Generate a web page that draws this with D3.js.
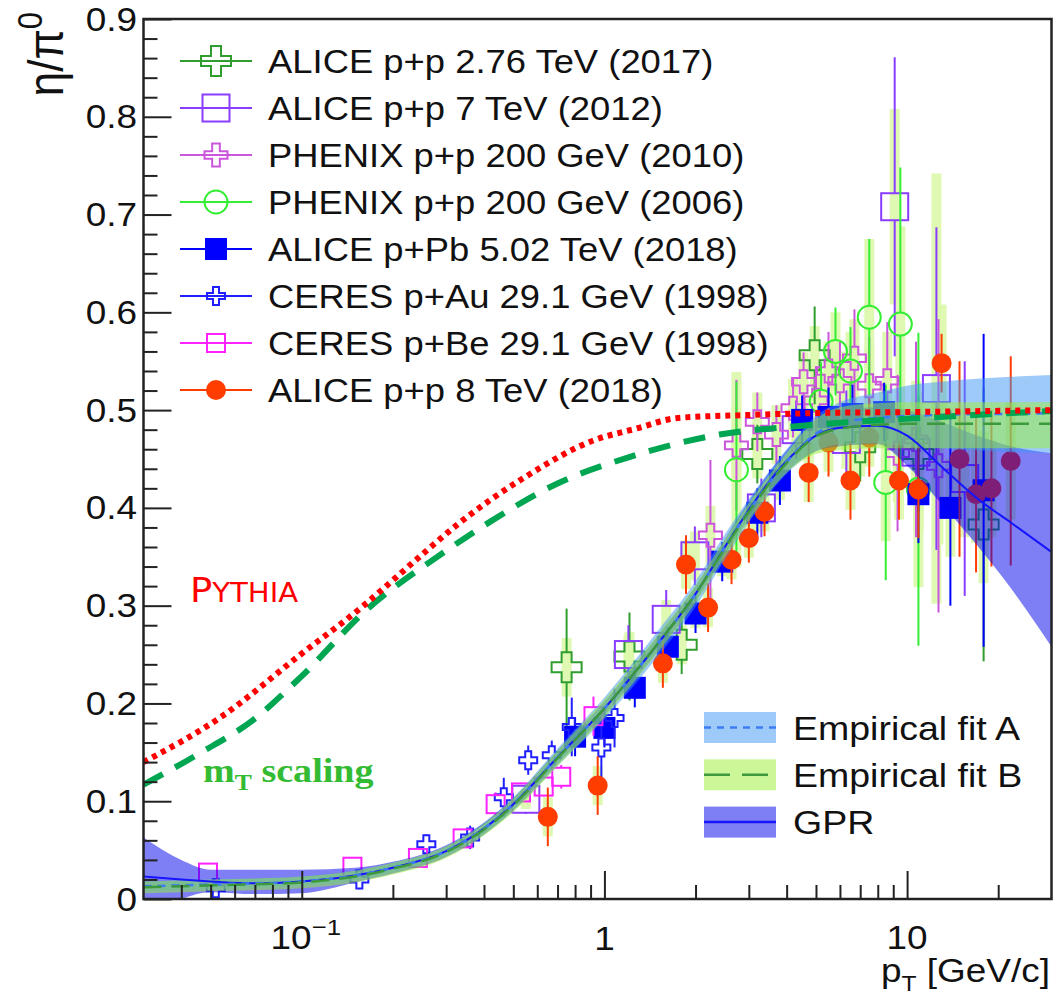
<!DOCTYPE html>
<html>
<head>
<meta charset="utf-8">
<script src="https://cdn.jsdelivr.net/npm/d3@7"></script>
<style>
  body { margin: 0; background: #fff; }
  text { font-family: 'Liberation Sans', Arial, sans-serif; fill: #111; }
</style>
</head>
<body>
<div id="viz-container"></div>
<script>
// ---- data: [pT, eta/pi0, stat err, syst err] ----
const alice276 = [[0.75,0.237,0.06,0.03],[1.21,0.248,0.045,0.025],[1.8,0.26,0.03,0.02],[3.2,0.455,0.03,0.025],
  [4.95,0.556,0.05,0.03],[7.0,0.462,0.035,0.03],[10.9,0.455,0.06,0.04],[17.9,0.383,0.14,0.06]];
const alice7 = [[0.55,0.102,0.015,0.01],[1.2,0.25,0.03,0.02],[1.6,0.286,0.03,0.02],[1.99,0.351,0.03,0.025],
  [3.3,0.40,0.03,0.02],[4.3,0.48,0.03,0.03],[6.3,0.47,0.05,0.03],[9.1,0.708,0.153,0.1],[10.7,0.457,0.08,0.05],
  [12.5,0.522,0.165,0.22],[15.5,0.43,0.12,0.06]];
const phenix10 = [[2.24,0.372,0.077,0.03],[2.73,0.464,0.067,0.04],[3.2,0.488,0.03,0.03],[3.7,0.475,0.03,0.03],
  [4.2,0.502,0.03,0.03],[4.55,0.529,0.03,0.03],[5.0,0.51,0.035,0.03],[5.5,0.54,0.04,0.03],[6.0,0.53,0.04,0.03],
  [6.7,0.553,0.05,0.04],[7.5,0.525,0.05,0.04],[8.6,0.53,0.06,0.05],[9.3,0.456,0.08,0.05],[10.7,0.47,0.1,0.06],
  [12.7,0.443,0.15,0.08]];
const phenix06 = [[2.73,0.439,0.09,0.1],[5.2,0.509,0.04,0.03],[5.8,0.56,0.045,0.04],[6.5,0.54,0.045,0.04],
  [7.5,0.595,0.08,0.08],[8.5,0.426,0.1,0.06],[9.5,0.588,0.16,0.1],[10.9,0.419,0.16,0.1]];
const alicePPb = [[0.8,0.166,0.02,0.01],[1.0,0.175,0.02,0.01],[1.26,0.216,0.02,0.01],[1.62,0.258,0.02,0.01],
  [2.0,0.292,0.02,0.015],[2.45,0.345,0.02,0.015],[3.2,0.395,0.025,0.02],[3.8,0.428,0.025,0.02],[4.5,0.49,0.025,0.02],
  [5.5,0.493,0.03,0.02],[6.6,0.496,0.03,0.02],[8.4,0.498,0.03,0.03],[10.9,0.414,0.05,0.04],[13.9,0.40,0.1,0.05],
  [17.9,0.418,0.16,0.06]];
const ceresAu = [[0.052,0.011,0.008,0],[0.155,0.02,0.01,0],[0.258,0.056,0.01,0],[0.36,0.063,0.012,0],
  [0.465,0.104,0.02,0],[0.56,0.142,0.015,0],[0.67,0.147,0.015,0],[0.78,0.176,0.03,0],[0.977,0.155,0.035,0],
  [1.08,0.185,0.03,0]];
const ceresBe = [[0.049,0.027,0.005,0],[0.147,0.033,0.005,0],[0.242,0.042,0.005,0],[0.34,0.062,0.008,0],
  [0.437,0.097,0.012,0],[0.53,0.109,0.01,0],[0.63,0.115,0.01,0],[0.72,0.125,0.012,0],[0.92,0.187,0.02,0]];
const alice8 = [[0.65,0.084,0.03,0.02],[0.95,0.116,0.03,0.02],[1.56,0.241,0.025,0.02],[1.86,0.342,0.03,0.025],
  [2.2,0.298,0.025,0.02],[2.63,0.347,0.025,0.02],[3.0,0.369,0.025,0.02],[3.38,0.396,0.025,0.02],
  [4.73,0.436,0.03,0.03],[5.5,0.467,0.035,0.03],[6.5,0.428,0.04,0.03],[7.5,0.472,0.04,0.03],[9.4,0.428,0.04,0.04],
  [10.9,0.419,0.05,0.04],[13.0,0.548,0.03,0.06],[14.9,0.45,0.1,0.05],[16.9,0.414,0.08,0.05],[19,0.42,0.08,0.05],
  [22,0.448,0.107,0.06]];

// model curves
const pythiaPt  = [0.03,0.054,0.1,0.16,0.2,0.26,0.33,0.55,0.92,1.27,1.75,3,5,10,30];
const pythiaVal = [0.140,0.186,0.251,0.300,0.326,0.357,0.384,0.432,0.469,0.481,0.492,0.495,0.497,0.498,0.500];
const mtPt  = [0.03,0.046,0.069,0.1,0.164,0.29,0.43,0.7,1.18,2.4,4.5,12.8,30];
const mtVal = [0.117,0.149,0.183,0.228,0.296,0.353,0.388,0.425,0.451,0.475,0.484,0.493,0.499];

// fits
const fitPt  = [0.03,0.04,0.05,0.07,0.1,0.15,0.2,0.3,0.4,0.5,0.7,1,1.5,2,2.5,3,4,5,6,8,10,13,17,22,30];
const fitA   = [0.013,0.014,0.015,0.016,0.018,0.024,0.032,0.049,0.072,0.097,0.145,0.195,0.261,0.312,0.36,0.397,0.447,0.476,0.487,0.492,0.494,0.495,0.496,0.496,0.497];
const fitAlo = [0.008,0.009,0.01,0.011,0.013,0.019,0.027,0.044,0.066,0.09,0.136,0.184,0.248,0.299,0.347,0.385,0.435,0.458,0.465,0.466,0.463,0.461,0.459,0.457,0.456];
const fitAhi = [0.018,0.019,0.02,0.021,0.023,0.029,0.037,0.054,0.078,0.104,0.154,0.206,0.274,0.325,0.373,0.409,0.46,0.494,0.508,0.518,0.525,0.529,0.532,0.534,0.536];
const fitB   = [0.012,0.013,0.014,0.015,0.017,0.023,0.031,0.048,0.071,0.096,0.144,0.195,0.261,0.312,0.359,0.396,0.446,0.473,0.481,0.485,0.486,0.486,0.486,0.486,0.486];
const fitBlo = [0.006,0.007,0.008,0.009,0.011,0.017,0.025,0.042,0.065,0.089,0.136,0.186,0.252,0.303,0.35,0.387,0.436,0.455,0.459,0.461,0.461,0.461,0.461,0.461,0.461];
const fitBhi = [0.018,0.019,0.02,0.021,0.023,0.029,0.037,0.054,0.077,0.103,0.152,0.204,0.27,0.321,0.368,0.405,0.456,0.491,0.503,0.507,0.508,0.508,0.508,0.508,0.508];
const gpr    = [0.023,0.020,0.018,0.016,0.018,0.024,0.032,0.049,0.072,0.097,0.145,0.195,0.261,0.312,0.36,0.398,0.448,0.474,0.482,0.484,0.474,0.442,0.41,0.385,0.355];
const gprLo  = [-0.02,0.0,0.007,0.005,0.006,0.017,0.026,0.043,0.066,0.091,0.138,0.188,0.253,0.304,0.352,0.389,0.437,0.458,0.463,0.465,0.443,0.404,0.362,0.318,0.258];
const gprHi  = [0.063,0.04,0.03,0.03,0.03,0.032,0.038,0.055,0.078,0.103,0.152,0.202,0.269,0.32,0.368,0.407,0.459,0.49,0.5,0.503,0.5,0.488,0.474,0.463,0.456];

const yMajor = [0,0.1,0.2,0.3,0.4,0.5,0.6,0.7,0.8,0.9];
const xMajor = [0.1,1,10];

// ---- styles ----
const series = [
  {data: alice276, name: 'ALICE p+p 2.76 TeV (2017)', color: '#2f9e2f', type: 'cross',  size: 30},
  {data: alice7,   name: 'ALICE p+p 7 TeV (2012)',    color: '#8a3cff', type: 'square', size: 27},
  {data: phenix10, name: 'PHENIX p+p 200 GeV (2010)', color: '#cc55dd', type: 'cross',  size: 23},
  {data: phenix06, name: 'PHENIX p+p 200 GeV (2006)', color: '#33ee33', type: 'circle', size: 23},
  {data: alicePPb, name: 'ALICE p+Pb 5.02 TeV (2018)',color: '#0000ff', type: 'fsquare',size: 20},
  {data: ceresAu,  name: 'CERES p+Au 29.1 GeV (1998)',color: '#1f1fff', type: 'cross',  size: 18},
  {data: ceresBe,  name: 'CERES p+Be 29.1 GeV (1998)',color: '#ff22ff', type: 'square', size: 18},
  {data: alice8,   name: 'ALICE p+p 8 TeV (2018)',    color: '#ff3d00', type: 'fcircle',size: 18}
];
const sx = 1.12;

let svg = d3.select('#viz-container')
  .append('svg')
    .attr('width', 1058)
    .attr('height', 995);

let x = d3.scaleLog().domain([0.03, 30]).range([143.5, 1051.5]);
let y = d3.scaleLinear().domain([0, 0.9]).range([899, 19]);

svg.append('clipPath').attr('id', 'clip')
  .append('rect').attr('x', 143.5).attr('y', 19).attr('width', 908).attr('height', 880);

let plot = svg.append('g').attr('clip-path', 'url(#clip)');

function txt(parent, px, py, s, size, anchor) {
  return parent.append('text')
    .attr('transform', `translate(${px},${py}) scale(${sx},1)`)
    .attr('text-anchor', anchor || 'start')
    .style('font-size', size + 'px')
    .text(s);
}

function marker(g, type, size, color) {
  let a = size / 2, b = size / 6;
  if (type == 'cross') {
    g.append('path')
      .attr('d', `M${-b},${-a}H${b}V${-b}H${a}V${b}H${b}V${a}H${-b}V${b}H${-a}V${-b}H${-b}Z`)
      .attr('fill', 'none').attr('stroke', color).attr('stroke-width', 2);
  }
  if (type == 'square' || type == 'fsquare') {
    g.append('rect').attr('x', -a).attr('y', -a).attr('width', size).attr('height', size)
      .attr('fill', type == 'fsquare' ? color : 'none').attr('stroke', color).attr('stroke-width', 2);
  }
  if (type == 'circle' || type == 'fcircle') {
    g.append('circle').attr('r', a)
      .attr('fill', type == 'fcircle' ? color : 'none').attr('stroke', color).attr('stroke-width', 2);
  }
}

// systematic boxes
series.forEach(s => {
  plot.selectAll(null).data(s.data.filter(d => d[3] > 0)).enter()
    .append('rect')
      .attr('x', d => x(d[0]) - 5)
      .attr('y', d => y(d[1] + d[3]))
      .attr('width', 10)
      .attr('height', d => y(d[1] - d[3]) - y(d[1] + d[3]))
      .attr('fill', '#dcf8ab')
      .attr('opacity', 0.9);
});

// stat errors and markers
series.forEach(s => {
  let h = s.size / 2;
  plot.selectAll(null).data(s.data.filter(d => y(d[1] + d[2]) < y(d[1]) - h)).enter()
    .append('line')
      .attr('x1', d => x(d[0])).attr('x2', d => x(d[0]))
      .attr('y1', d => y(d[1] + d[2])).attr('y2', d => y(d[1]) - h)
      .attr('stroke', s.color).attr('stroke-width', 2);
  plot.selectAll(null).data(s.data.filter(d => y(d[1] - d[2]) > y(d[1]) + h)).enter()
    .append('line')
      .attr('x1', d => x(d[0])).attr('x2', d => x(d[0]))
      .attr('y1', d => y(d[1]) + h).attr('y2', d => y(d[1] - d[2]))
      .attr('stroke', s.color).attr('stroke-width', 2);
  plot.selectAll(null).data(s.data).enter()
    .append('g')
      .attr('transform', d => `translate(${x(d[0])},${y(d[1])})`)
      .each(function() { marker(d3.select(this), s.type, s.size, s.color); });
});

// fit bands and lines
function band(lo, hi, fill, op) {
  let area = d3.area()
    .x((d, i) => x(fitPt[i]))
    .y0((d, i) => y(lo[i]))
    .y1((d, i) => y(hi[i]))
    .curve(d3.curveMonotoneX);
  plot.append('path').attr('d', area(fitPt)).attr('fill', fill).attr('opacity', op);
}
function curve(pts, vals, color, w, dash) {
  let line = d3.line()
    .x((d, i) => x(pts[i]))
    .y((d, i) => y(vals[i]))
    .curve(d3.curveMonotoneX);
  plot.append('path').attr('d', line(pts))
    .attr('fill', 'none').attr('stroke', color).attr('stroke-width', w)
    .attr('stroke-dasharray', dash);
}
band(gprLo, gprHi, '#0000eb', 0.5);
band(fitAlo, fitAhi, '#3d96f5', 0.5);
band(fitBlo, fitBhi, '#99f033', 0.5);
curve(fitPt, gpr, '#1515ff', 2, null);
curve(fitPt, fitA, '#3d7cf5', 2.5, '8,6');
curve(fitPt, fitB, '#3c9a3c', 2.5, '18,10');

// model curves
curve(mtPt, mtVal, '#00a651', 6, '22,14');
curve(pythiaPt, pythiaVal, '#ff0000', 6, '5,5');

// axes (ticks inward like the original)
let minorX = [];
[0.01, 0.1, 1, 10].forEach(dec => { for (let k = 2; k <= 9; k++) { let v = dec * k; if (v > 0.03 && v < 30) minorX.push(v); } });
let minorY = d3.range(0, 0.9001, 0.02).filter(v => Math.abs(v * 10 - Math.round(v * 10)) > 1e-6);

let axX = svg.append('g').attr('transform', 'translate(0,899)');
axX.call(d3.axisBottom(x).tickValues(xMajor).tickSize(-28).tickFormat(''));
axX.call(g => g.append('g').call(d3.axisBottom(x).tickValues(minorX).tickSize(-14).tickFormat('')));
let axY = svg.append('g').attr('transform', 'translate(143.5,0)');
axY.call(d3.axisLeft(y).tickValues(yMajor).tickSize(-28).tickFormat(''));
axY.call(g => g.append('g').call(d3.axisLeft(y).tickValues(minorY).tickSize(-14).tickFormat('')));
svg.selectAll('.domain').remove();
svg.selectAll('.tick line').attr('stroke', '#222').attr('stroke-width', 2);

svg.append('rect')
  .attr('x', 143.5).attr('y', 19).attr('width', 908).attr('height', 880)
  .attr('fill', 'none').attr('stroke', '#222').attr('stroke-width', 2.5);

// tick labels
yMajor.forEach(v => txt(svg, 137, y(v) + 11.5, v == 0 ? '0' : v.toFixed(1), 33, 'end'));
let t1 = txt(svg, x(0.1) + 4, 949, '', 33, 'middle');
t1.append('tspan').text('10');
t1.append('tspan').attr('dy', -14).style('font-size', '23px').text('\u22121');
txt(svg, x(1), 950, '1', 33, 'middle');
txt(svg, x(10), 949, '10', 33, 'middle');

// axis titles
let xt = txt(svg, 1050, 982, '', 33, 'end');
xt.append('tspan').text('p');
xt.append('tspan').attr('dy', 9).style('font-size', '22px').text('T');
xt.append('tspan').attr('dy', -9).text(' [GeV/c]');

let yt = svg.append('text')
  .attr('transform', `translate(63,12) scale(${sx},1) rotate(-90)`)
  .attr('text-anchor', 'end')
  .style('font-size', '44px');
yt.append('tspan').text('\u03b7/\u03c0');
yt.append('tspan').attr('dy', -19).style('font-size', '31px').text('0');

// model labels
let py = svg.append('text')
  .attr('transform', `translate(190,602) scale(${sx},1)`)
  .style('font-family', "'DejaVu Sans', sans-serif").style('fill', '#ff0000');
py.append('tspan').style('font-size', '33px').style('fill', '#ff0000').text('P');
py.append('tspan').style('font-size', '26px').style('fill', '#ff0000').text('YTHIA');

let mt = svg.append('text')
  .attr('transform', `translate(203,782) scale(${sx},1)`)
  .style('font-family', "'Liberation Serif', 'Times New Roman', serif")
  .style('font-weight', 'bold').style('font-size', '34px');
mt.append('tspan').style('fill', '#33bb33').text('m');
mt.append('tspan').attr('dy', 8).style('font-size', '23px').style('fill', '#33bb33').text('T');
mt.append('tspan').attr('dy', -8).style('fill', '#33bb33').text(' scaling');

// legend (data)
let leg = svg.append('g');
series.forEach((s, i) => {
  let ly = 61 + 47 * i;
  leg.append('line').attr('x1', 180).attr('x2', 252).attr('y1', ly).attr('y2', ly)
    .attr('stroke', s.color).attr('stroke-width', 2);
  let g = leg.append('g').attr('transform', `translate(216,${ly})`);
  marker(g, s.type, s.size, s.color);
  txt(leg, 268, ly + 12, s.name, 32.5, 'start');
});

// legend (fits)
const fitLegend = [
  {name: 'Empirical fit A', fill: '#9ecafa', line: '#3d7cf5', dash: '7,6'},
  {name: 'Empirical fit B', fill: '#ccf799', line: '#3c9a3c', dash: '26,12'},
  {name: 'GPR', fill: '#7f7ff5', line: '#1515ff', dash: null}
];
fitLegend.forEach((f, i) => {
  let ly = 727.5 + 47.3 * i;
  leg.append('rect').attr('x', 704).attr('y', ly - 15.5).attr('width', 72).attr('height', 31).attr('fill', f.fill);
  leg.append('line').attr('x1', 704).attr('x2', 776).attr('y1', ly).attr('y2', ly)
    .attr('stroke', f.line).attr('stroke-width', 2.5).attr('stroke-dasharray', f.dash);
  txt(leg, 793, ly + 12, f.name, 33.5, 'start');
});
</script>
</body>
</html>
